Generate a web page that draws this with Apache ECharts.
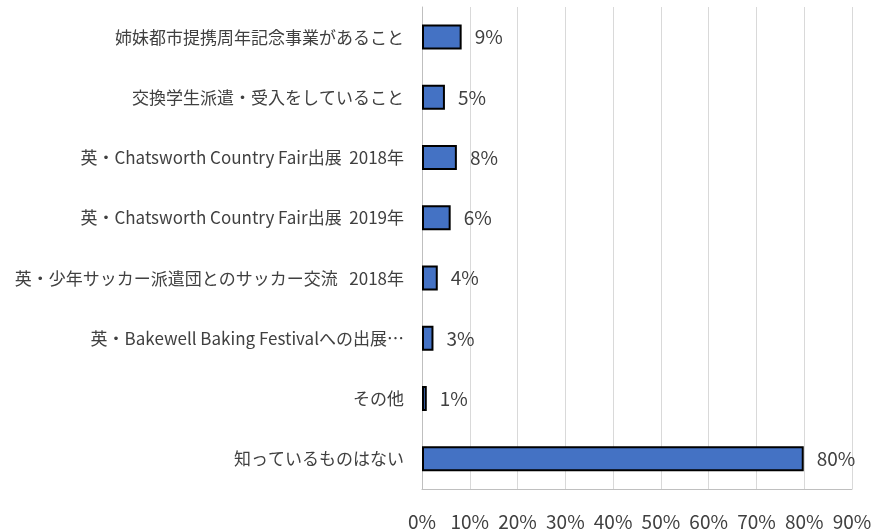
<!DOCTYPE html>
<html>
<head>
<meta charset="utf-8">
<script src="https://cdn.jsdelivr.net/npm/echarts@6/dist/echarts.min.js"></script>
<style>
  html, body { margin: 0; padding: 0; background: #fff; }
  #chart { width: 890px; height: 531px; }
</style>
</head>
<body>
<div id="chart"></div>
<script>
// categories, top to bottom
var categories = [
  '姉妹都市提携周年記念事業があること',
  '交換学生派遣・受入をしていること',
  '英・Chatsworth Country Fair出展  2018年',
  '英・Chatsworth Country Fair出展  2019年',
  '英・少年サッカー派遣団とのサッカー交流   2018年',
  '英・Bakewell Baking Festivalへの出展…',
  'その他',
  '知っているものはない'
];
// bar lengths (%)
var values = [8.3, 4.8, 7.3, 6.0, 3.3, 2.4, 1.0, 79.9];
// the printed labels (%)
var pctLabels = [9, 5, 8, 6, 4, 3, 1, 80];

var textColor = '#404040';
var myChart = echarts.init(document.getElementById('chart'));
myChart.setOption({
  animation: false,
  textStyle: { fontFamily: '"Noto Sans CJK JP", "Noto Sans", sans-serif' },
  grid: { left: 422, right: 38, top: 7, bottom: 41, containLabel: false },
  xAxis: {
    type: 'value',
    min: 0,
    max: 90,
    interval: 10,
    axisLine: { show: true, lineStyle: { color: '#bfbfbf', width: 1 } },
    axisTick: { show: false },
    splitLine: { show: true, lineStyle: { color: '#d9d9d9', width: 1 } },
    axisLabel: {
      formatter: '{value}%',
      color: textColor,
      fontSize: 19,
      margin: 23
    }
  },
  yAxis: {
    type: 'category',
    inverse: true,
    data: categories,
    axisLine: { show: true, lineStyle: { color: '#bfbfbf', width: 1 } },
    axisTick: { show: false },
    axisLabel: { color: textColor, fontSize: 17, margin: 18 }
  },
  series: [{
    type: 'bar',
    data: values,
    barWidth: 25,
    itemStyle: { color: '#4472c4', borderColor: '#000', borderWidth: 2 },
    label: {
      show: true,
      position: 'right',
      distance: 13,
      color: textColor,
      fontSize: 19,
      formatter: function (p) { return pctLabels[p.dataIndex] + '%'; }
    }
  }]
});
</script>
</body>
</html>
